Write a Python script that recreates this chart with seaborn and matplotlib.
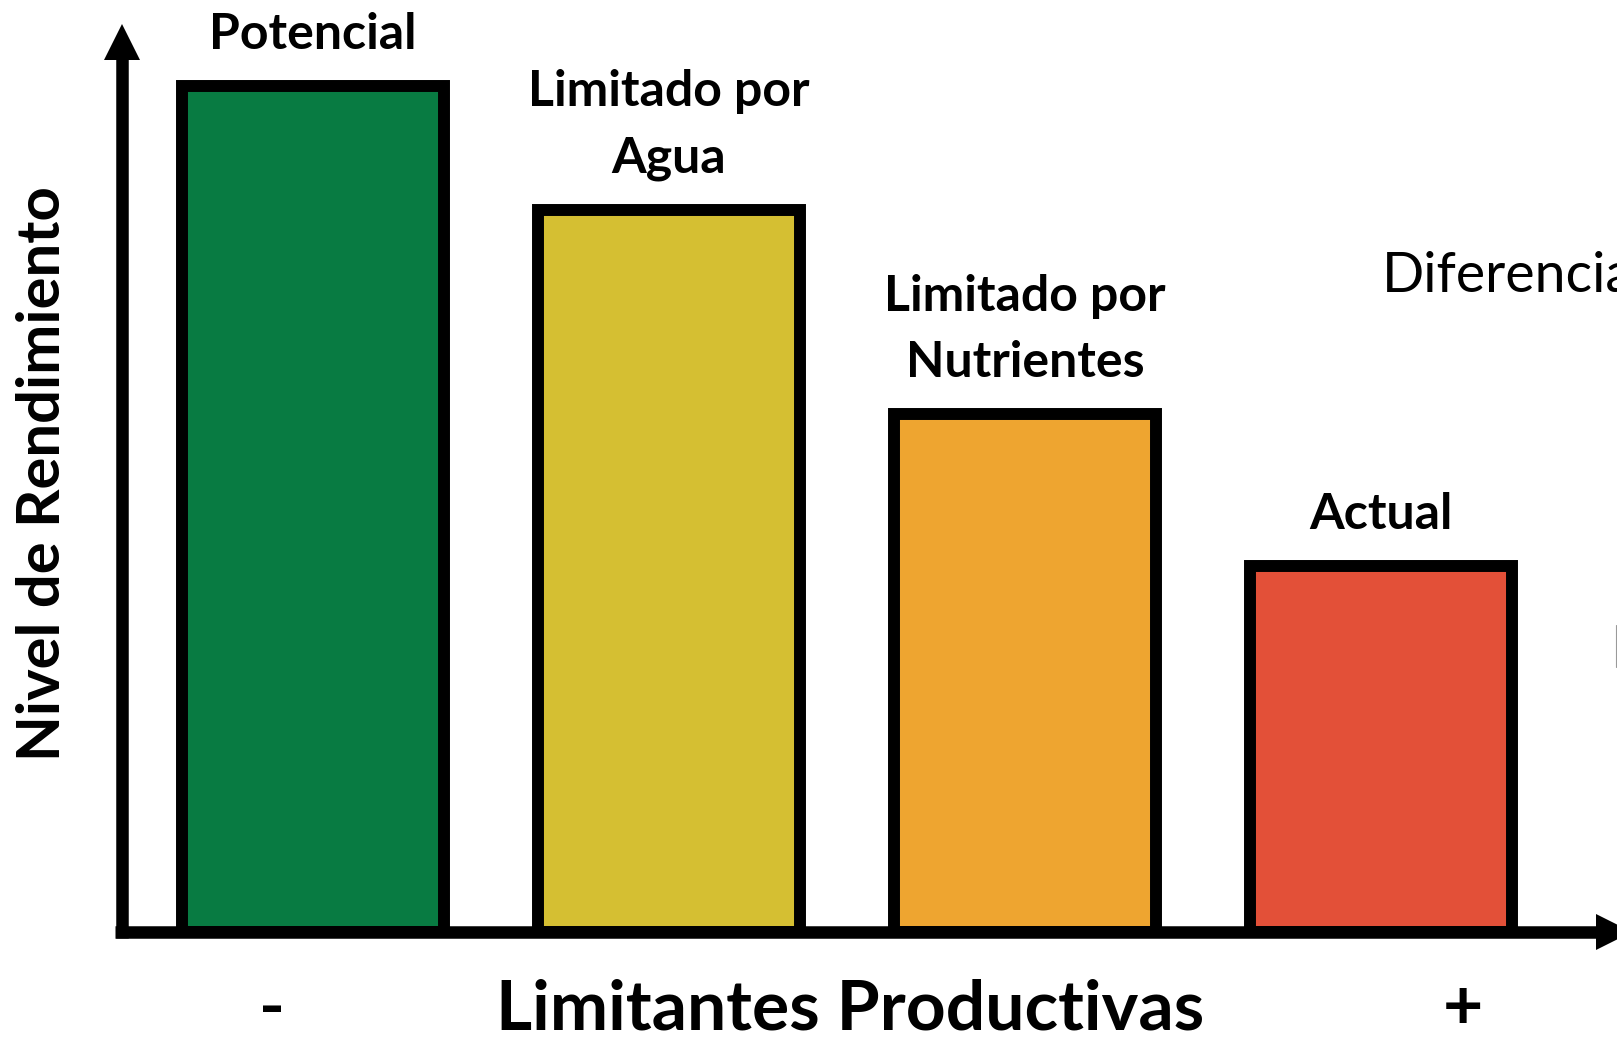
import matplotlib
matplotlib.use("Agg")
import matplotlib.pyplot as plt
from matplotlib.lines import Line2D
import seaborn as sns
import pandas as pd

# datos
categorias = ["Potencial", "Limitado por\nAgua", "Limitado por\nNutrientes", "Actual"]
rendimiento = [100, 85.3, 61.2, 43.3]
colores = ["#087B42", "#D5BF32", "#EEA530", "#E35038"]
extremos = ["-", "+"]
eje_x = "Limitantes Productivas"
eje_y = "Nivel de Rendimiento"
nota = "Diferencia"

sns.set_theme(style="white")
plt.rcParams["font.family"] = ["Lato", "DejaVu Sans"]
plt.rcParams["text.color"] = "black"

W, H = 1617, 1043
fig = plt.figure(figsize=(W / 100, H / 100), dpi=100)

# posicion del eje en pixeles
x0, y0, y1 = 121.5, 932, 23
ax = fig.add_axes([x0 / W, (H - y0) / H, (W - x0) / W, (y0 - y1) / H])

df = pd.DataFrame({"cat": categorias, "val": rendimiento})
sns.barplot(data=df, x="cat", y="val", hue="cat", palette=colores, legend=False,
            width=0.736, saturation=1, edgecolor="black", linewidth=8.6, ax=ax)
for p in ax.patches:
    p.set_joinstyle("miter")

paso = 356
xmin = (x0 - 313) / paso
ax.set_xlim(xmin, xmin + (W - x0) / paso)
ax.set_ylim(0, 100 * (y0 - y1) / 846)
ax.axis("off")

# etiquetas sobre las barras
for i, (c, v) in enumerate(zip(categorias, rendimiento)):
    ax.annotate(c, xy=(i, v), xytext=(0, 21), textcoords="offset points",
                ha="center", va="bottom", fontsize=36, fontweight="bold",
                linespacing=1.58, annotation_clip=False)

# ejes con flechas
def fx(px):
    return (px - x0) / (W - x0)

def fy(py):
    return (y0 - py) / (y0 - y1)

ax.plot([0, 0], [fy(938), fy(50)], color="black", lw=9, solid_capstyle="butt",
        transform=ax.transAxes, clip_on=False)
ax.plot([fx(115), fx(1600)], [0, 0], color="black", lw=9, solid_capstyle="butt",
        transform=ax.transAxes, clip_on=False)
ax.plot([0], [fy(41.5)], marker="^", ms=26.6, mew=0, color="black",
        transform=ax.transAxes, clip_on=False)
ax.plot([fx(1613.5)], [0], marker=">", ms=26.6, mew=0, color="black",
        transform=ax.transAxes, clip_on=False)

# textos de los ejes
base = (H - 1029) / H
fig.text(850 / W, base, eje_x, ha="center", va="baseline",
         fontsize=50, fontweight="bold")
fig.text(272 / W, base, extremos[0], ha="center", va="baseline",
         fontsize=50, fontweight="bold")
fig.text(1463 / W, base, extremos[1], ha="center", va="baseline",
         fontsize=50, fontweight="bold")
fig.text(60 / W, (H - 474) / H, eje_y, rotation=90, rotation_mode="anchor",
         ha="center", va="baseline", fontsize=43, fontweight="bold")
fig.text(1382 / W, (H - 292) / H, nota, ha="left", va="baseline", fontsize=40)

fig.add_artist(Line2D([1616 / W] * 2, [(H - 625) / H, (H - 667) / H],
                      color="#9a9a9a", lw=0.8))

fig.savefig("out.png", dpi=100)
